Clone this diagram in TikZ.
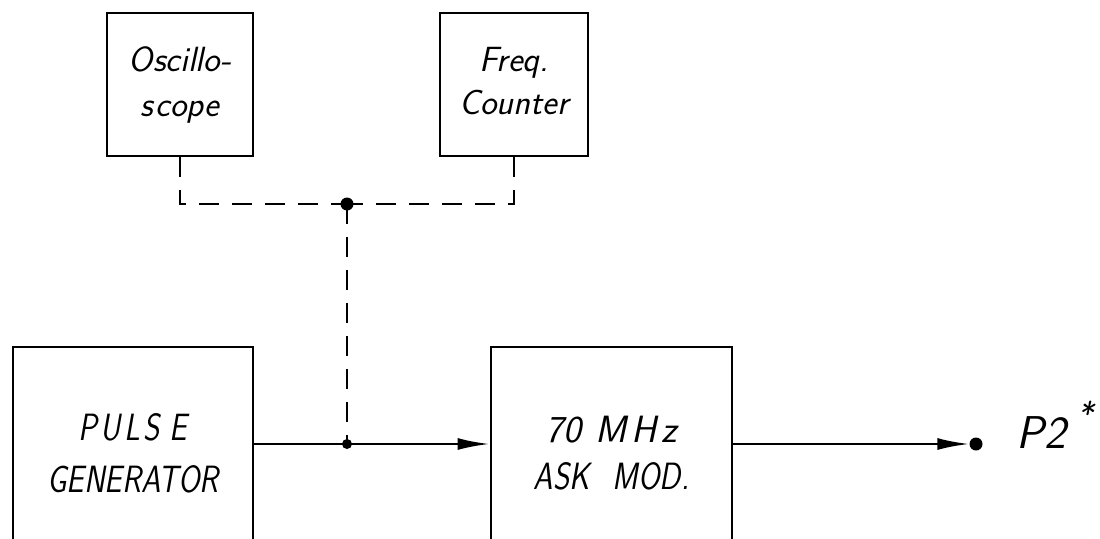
\documentclass[tikz,border=0pt]{standalone}
\usepackage{fontspec}
\usetikzlibrary{arrows.meta}
\newcommand\hsq[1]{\scalebox{0.82}[1]{#1}}
\begin{document}
\begin{tikzpicture}[x=1pt,y=-1pt,
  box/.style={draw,line width=2.8pt,inner sep=0pt,align=center},
  dashline/.style={line width=2.6pt,dash pattern=on 20pt off 13pt},
  wire/.style={line width=2.6pt},
  tip/.style={-{Latex[length=32pt,width=12pt]}},
  jdot/.style={circle,fill,inner sep=0pt,minimum size=#1}]
\clip (0,0) rectangle (1100,538);
\fill[white] (0,0) rectangle (1100,538);

\node[box,minimum width=146pt,minimum height=143pt,
  font=\sffamily\itshape\fontsize{35}{45}\selectfont] (osc) at (180,84.5)
  {Oscillo-\\s\kern2pt cope};
\node[box,minimum width=148pt,minimum height=143pt,
  font=\sffamily\itshape\fontsize{35}{43}\selectfont] (freq) at (514,84.5)
  {Freq.\\Counter\vphantom{p}};
\node[box,minimum width=240pt,minimum height=213pt,
  font=\sffamily\itshape\fontsize{38}{52}\selectfont] (pulse) at (133,453.5)
  {\hsq{P\kern4pt U\kern4pt L\kern4pt S\kern12pt E}\\\hsq{GENERATOR}};
\node[box,minimum width=241pt,minimum height=213pt,
  font=\sffamily\itshape\fontsize{38}{47}\selectfont] (ask) at (611.5,453.5)
  {70\hspace{14pt}M\hspace{5pt}H\hspace{5pt}z\\\hsq{ASK\hspace{28pt}MOD.}};

\node[jdot=13pt] (jt) at (347,204) {};
\node[jdot=10pt] (j) at (347,444) {};
\node[jdot=13pt] (out) at (976,444) {};
\node[anchor=base west,font=\sffamily\itshape\fontsize{46}{46}\selectfont]
  (p2) at (1013,448) {P2\kern12pt\raisebox{22pt}{\fontsize{34}{34}\selectfont *}};

\draw[dashline] (osc.south) |- (jt.center);
\draw[dashline] (freq.south) |- (jt.center);
\draw[dashline] (jt.center) -- (j.center);

\draw[wire] (pulse.east |- j) -- (j.center);
\draw[wire,tip] (j.center) -- (ask.west |- j);
\draw[wire,tip] (ask.east |- j) -- (out.west);
\end{tikzpicture}
\end{document}
